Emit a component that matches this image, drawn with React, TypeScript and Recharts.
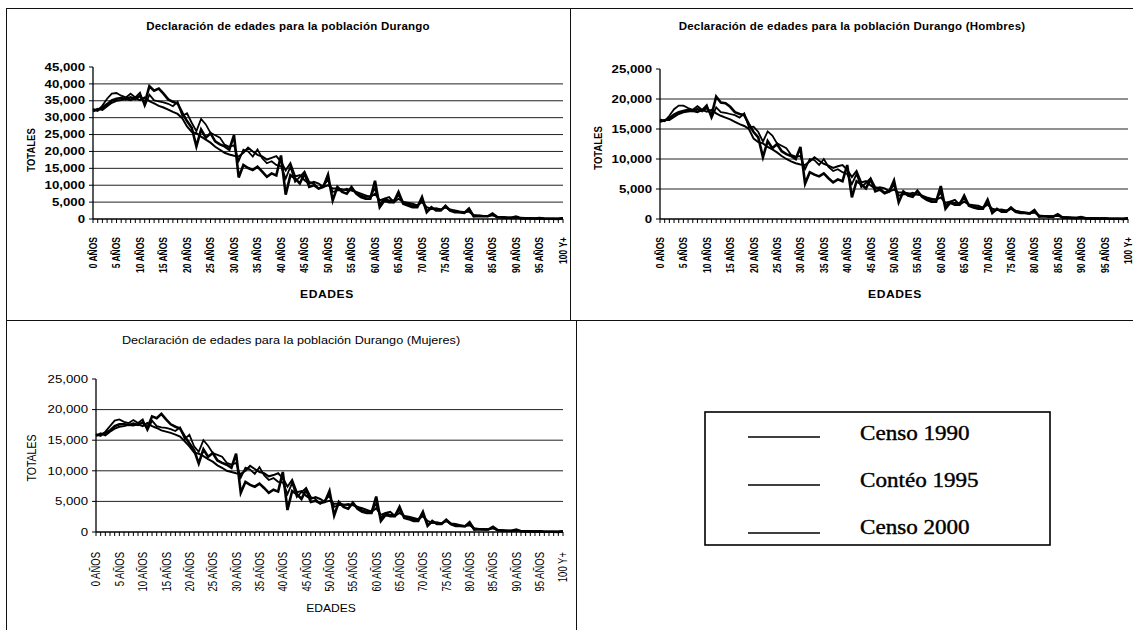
import React from 'react';
import { LineChart, Line, XAxis, YAxis, CartesianGrid } from 'recharts';

// edades 0..100 (100 = "100 Y+")
const edades = Array.from({ length: 101 }, (_, i) => i);
const edadesConEtiqueta = [0, 5, 10, 15, 20, 25, 30, 35, 40, 45, 50, 55, 60, 65, 70, 75, 80, 85, 90, 95, 100];
const etiquetasEdad = [
  '0 AÑOS', '5 AÑOS', '10 AÑOS', '15 AÑOS', '20 AÑOS', '25 AÑOS', '30 AÑOS', '35 AÑOS', '40 AÑOS', '45 AÑOS',
  '50 AÑOS', '55 AÑOS', '60 AÑOS', '65 AÑOS', '70 AÑOS', '75 AÑOS', '80 AÑOS', '85 AÑOS', '90 AÑOS', '95 AÑOS', '100 Y+',
];

const censos = ['Censo 1990', 'Contéo 1995', 'Censo 2000'];

const ticksTotal = [0, 5000, 10000, 15000, 20000, 25000, 30000, 35000, 40000, 45000];
const gridTotal = [5000, 10000, 15000, 20000, 25000, 30000, 35000, 40000];
const ticksSexo = [0, 5000, 10000, 15000, 20000, 25000];
const gridSexo = [5000, 10000, 15000, 20000];

// Durango, total
const total1990 = [
  32100, 32300, 33000, 34000, 35100, 35600, 35800, 35500, 36000, 35500,
  36500, 34300, 39300, 38000, 38600, 37100, 35400, 34700, 34200, 31400,
  29000, 27000, 21500, 26500, 24100, 25400, 23000, 22100, 21500, 20500,
  24800, 12300, 16000, 15100, 14500, 15500, 14000, 12500, 13500, 12900,
  18800, 7200, 13000, 12000, 10500, 13500, 9500, 10000, 9000, 9500,
  13100, 5500, 9500, 8000, 7500, 9500, 7500, 6500, 6000, 6000,
  11300, 3500, 5500, 5000, 5000, 8000, 4500, 4000, 3500, 3500,
  6500, 2000, 3500, 2500, 2500, 3900, 2500, 2000, 2000, 1800,
  3100, 800, 900, 800, 800, 1600, 550, 500, 400, 350,
  700, 250, 220, 200, 160, 250, 100, 90, 70, 50,
  200,
];
const total1995 = [
  32600, 32000, 33600, 35600, 37100, 37300, 36500, 36000, 37100, 36000,
  37400, 33400, 36800, 35100, 34800, 34500, 34100, 33400, 34700, 30500,
  31300, 28500, 26000, 29600, 28000, 25500, 24800, 24100, 22000, 21400,
  21800, 17200, 20500, 20000, 18500, 20600, 18000, 16500, 17100, 16000,
  15600, 12000, 15500, 11000, 12500, 14000, 11000, 10500, 9000, 10000,
  11500, 8000, 8500, 8500, 9000, 8500, 8000, 7000, 6500, 6800,
  9000, 4500, 6000, 5500, 5500, 7000, 5000, 4500, 4000, 4000,
  5500, 2500, 3000, 3000, 2800, 3500, 2500, 2200, 2000, 1900,
  2500, 1000, 1000, 900, 800, 1300, 600, 500, 400, 400,
  550, 250, 220, 200, 180, 200, 120, 100, 80, 60,
  220,
];
const total2000 = [
  31900, 32600, 32300, 33400, 34400, 35000, 35200, 35500, 35200, 35800,
  35200, 36000, 34900, 34200, 33500, 33000, 32400, 31700, 31100, 29800,
  27400, 25800, 25400, 24400, 23500, 22600, 21400, 20500, 19600, 19100,
  18700, 18500, 19600, 21100, 20000, 19000, 18500, 17600, 18100, 18600,
  17000, 14400, 16500, 12600, 13000, 11500, 10500, 11000, 10500, 9500,
  10000, 9000, 9000, 8800, 8500, 8500, 8000, 7500, 7000, 6500,
  7500, 5500, 6000, 6500, 5000, 6000, 5000, 4800, 4500, 4000,
  5000, 3500, 3000, 3200, 2800, 3500, 2800, 2500, 2200, 2000,
  2200, 1200, 1000, 900, 900, 1100, 600, 500, 400, 400,
  450, 250, 220, 200, 180, 180, 120, 100, 80, 60,
  240,
];

// Hombres
const hombres1990 = [
  16300, 16400, 16800, 17400, 17800, 18000, 18200, 18000, 18300, 18000,
  18600, 17300, 20400, 19400, 19300, 18700, 17800, 17500, 17300, 15800,
  14500, 13600, 10300, 13000, 11800, 12500, 11300, 10800, 10500, 10000,
  12000, 5900, 7800, 7400, 7100, 7600, 6800, 6100, 6600, 6300,
  9000, 3600, 6300, 5800, 5100, 6600, 4600, 4900, 4300, 4600,
  6400, 2800, 4600, 3900, 3700, 4700, 3700, 3200, 2900, 2900,
  5500, 1700, 2700, 2400, 2400, 3900, 2200, 1900, 1700, 1700,
  3200, 1000, 1700, 1200, 1200, 1900, 1200, 1000, 1000, 900,
  1500, 400, 450, 400, 400, 800, 250, 250, 200, 150,
  300, 120, 110, 100, 80, 120, 50, 45, 35, 25,
  100,
];
const hombres1995 = [
  16600, 16300, 17200, 18300, 18900, 18900, 18500, 18200, 18800, 18200,
  19000, 16800, 18600, 17800, 17700, 17500, 17300, 16900, 17600, 15300,
  15400, 14500, 12900, 14600, 13900, 12600, 12200, 11800, 10700, 10400,
  10500, 8300, 10000, 9800, 9000, 10000, 8700, 8000, 8300, 7800,
  7500, 5800, 7500, 5300, 6000, 6800, 5300, 5100, 4400, 4800,
  5600, 3900, 4100, 4100, 4400, 4100, 3900, 3400, 3200, 3300,
  4400, 2200, 2900, 2700, 2700, 3400, 2400, 2200, 1900, 1900,
  2700, 1200, 1500, 1500, 1400, 1700, 1200, 1100, 1000, 900,
  1200, 500, 500, 450, 400, 650, 300, 250, 200, 200,
  250, 120, 110, 100, 90, 100, 60, 50, 40, 30,
  110,
];
const hombres2000 = [
  16200, 16500, 16500, 17000, 17500, 17800, 17900, 18000, 17800, 18200,
  17900, 18200, 17600, 17200, 16900, 16600, 16200, 15800, 15500, 15000,
  13400, 12800, 12600, 12000, 11600, 11100, 10500, 10000, 9600, 9300,
  9100, 9000, 9600, 10300, 9700, 9200, 8900, 8500, 8800, 9000,
  8200, 7000, 8000, 6100, 6300, 5600, 5100, 5300, 5100, 4600,
  4900, 4400, 4400, 4300, 4100, 4100, 3900, 3600, 3400, 3200,
  3600, 2700, 2900, 3200, 2400, 2900, 2400, 2300, 2200, 1900,
  2400, 1700, 1500, 1600, 1400, 1700, 1400, 1200, 1100, 1000,
  1100, 600, 500, 450, 450, 550, 300, 250, 200, 200,
  200, 120, 110, 100, 90, 90, 60, 50, 40, 30,
  120,
];

// Mujeres
const mujeres1990 = [
  15800, 15900, 16200, 16600, 17300, 17600, 17600, 17500, 17700, 17500,
  17900, 17000, 18900, 18600, 19300, 18400, 17600, 17200, 16900, 15600,
  14500, 13400, 11200, 13500, 12300, 12900, 11700, 11300, 11000, 10500,
  12800, 6400, 8200, 7700, 7400, 7900, 7200, 6400, 6900, 6600,
  9800, 3600, 6700, 6200, 5400, 6900, 4900, 5100, 4700, 4900,
  6700, 2700, 4900, 4100, 3800, 4800, 3800, 3300, 3100, 3100,
  5800, 1800, 2800, 2600, 2600, 4100, 2300, 2100, 1800, 1800,
  3300, 1000, 1800, 1300, 1300, 2000, 1300, 1000, 1000, 900,
  1600, 400, 450, 400, 400, 850, 300, 250, 200, 200,
  400, 130, 110, 100, 80, 130, 50, 45, 35, 25,
  100,
];
const mujeres1995 = [
  16000, 15700, 16400, 17300, 18200, 18400, 18000, 17800, 18300, 17800,
  18400, 16600, 18200, 17300, 17100, 17000, 16800, 16500, 17100, 15200,
  15900, 14000, 13100, 15000, 14100, 12900, 12600, 12300, 11300, 11000,
  11300, 8900, 10500, 10200, 9500, 10600, 9300, 8500, 8800, 8200,
  8100, 6200, 8000, 5700, 6500, 7200, 5700, 5400, 4600, 5200,
  5900, 4100, 4400, 4400, 4600, 4400, 4100, 3600, 3300, 3500,
  4600, 2300, 3100, 2800, 2800, 3600, 2600, 2300, 2100, 2100,
  2800, 1300, 1500, 1500, 1400, 1800, 1300, 1100, 1000, 1000,
  1300, 500, 500, 450, 400, 700, 300, 250, 200, 200,
  300, 130, 110, 100, 90, 100, 60, 50, 40, 30,
  110,
];
const mujeres2000 = [
  15700, 16100, 15800, 16400, 16900, 17200, 17300, 17500, 17400, 17600,
  17300, 17800, 17300, 17000, 16600, 16400, 16200, 15900, 15600, 14800,
  14000, 13000, 12800, 12400, 11900, 11500, 10900, 10500, 10000, 9800,
  9600, 9500, 10000, 10800, 10300, 9800, 9600, 9100, 9300, 9600,
  8800, 7400, 8500, 6500, 6700, 5900, 5400, 5700, 5400, 4900,
  5100, 4600, 4600, 4500, 4400, 4400, 4100, 3900, 3600, 3300,
  3900, 2800, 3100, 3300, 2600, 3100, 2600, 2500, 2300, 2100,
  2600, 1800, 1500, 1600, 1400, 1800, 1400, 1300, 1100, 1000,
  1100, 600, 500, 450, 450, 600, 300, 250, 200, 200,
  250, 130, 110, 100, 90, 90, 60, 50, 40, 30,
  120,
];

const FONT = '"Liberation Sans", Arial, sans-serif';
const STRETCH = 1.15;

const filas = (a: number[], b: number[], c: number[]) =>
  edades.map((e, i) => ({ edad: e, c1990: a[i], c1995: b[i], c2000: c[i] }));

const XTick = (props: any) => {
  const { x, y, payload, size, weight, offset, stretch } = props;
  const idx = edadesConEtiqueta.indexOf(payload.value);
  if (idx < 0) return <g />;
  return (
    <text
      transform={`translate(${x},${y + offset}) scale(${stretch},1) rotate(-90)`}
      textAnchor="end"
      dominantBaseline="central"
      fontFamily={FONT}
      fontSize={size}
      fontWeight={weight}
      fill="#000"
    >
      {etiquetasEdad[idx]}
    </text>
  );
};

const YTick = (props: any) => {
  const { x, y, payload, size, weight } = props;
  return (
    <text
      transform={`translate(${x},${y}) scale(${STRETCH},1)`}
      textAnchor="end"
      dominantBaseline="central"
      fontFamily={FONT}
      fontSize={size}
      fontWeight={weight}
      fill="#000"
    >
      {Number(payload.value).toLocaleString('en-US')}
    </text>
  );
};

const Texto = ({ x, y, size, weight, rotate, spacing, children }: any) => (
  <div
    style={{
      position: 'absolute',
      left: x,
      top: y,
      transform: `translate(-50%,-50%) scaleX(${STRETCH})${rotate ? ' rotate(-90deg)' : ''}`,
      whiteSpace: 'nowrap',
      fontFamily: FONT,
      fontSize: size,
      fontWeight: weight,
      letterSpacing: spacing || 0,
      lineHeight: 1,
      color: '#000',
    }}
  >
    {children}
  </div>
);

const Grafica = ({ left, top, width, height, margin, data, ticks, grid, bold, xOffset, xSize, xStretch, ySize }: any) => {
  const weight = bold ? 700 : 400;
  return (
    <div style={{ position: 'absolute', left, top }}>
      <LineChart width={width} height={height} data={data} margin={margin}>
        <CartesianGrid vertical={false} horizontalValues={grid} stroke="#222" strokeWidth={1} />
        <XAxis
          dataKey="edad"
          interval={0}
          height={60}
          tickSize={4}
          tickMargin={2}
          axisLine={{ stroke: '#000', strokeWidth: 1.3 }}
          tickLine={{ stroke: '#000' }}
          tick={<XTick size={xSize} weight={weight} offset={xOffset} stretch={xStretch} />}
        />
        <YAxis
          width={60}
          domain={[0, ticks[ticks.length - 1]]}
          ticks={ticks}
          interval={0}
          tickSize={4}
          tickMargin={4}
          axisLine={{ stroke: '#000', strokeWidth: 1.3 }}
          tickLine={{ stroke: '#000' }}
          tick={<YTick size={ySize} weight={weight} />}
        />
        <Line type="linear" dataKey="c1990" name={censos[0]} stroke="#000" strokeWidth={2.6} dot={false} isAnimationActive={false} />
        <Line type="linear" dataKey="c1995" name={censos[1]} stroke="#000" strokeWidth={1.8} dot={false} isAnimationActive={false} />
        <Line type="linear" dataKey="c2000" name={censos[2]} stroke="#000" strokeWidth={2} dot={false} isAnimationActive={false} />
      </LineChart>
    </div>
  );
};

export default function App() {
  const datosTotal = filas(total1990, total1995, total2000);
  const datosHombres = filas(hombres1990, hombres1995, hombres2000);
  const datosMujeres = filas(mujeres1990, mujeres1995, mujeres2000);

  return (
    <div style={{ position: 'absolute', left: 0, top: 0, width: 1133, height: 630, background: '#fff', overflow: 'hidden' }}>
      {/* marcos */}
      <div style={{ position: 'absolute', left: 6, top: 8, width: 1140, height: 640, borderLeft: '1px solid #111', borderTop: '1px solid #111' }} />
      <div style={{ position: 'absolute', left: 570, top: 8, width: 1, height: 312, background: '#111' }} />
      <div style={{ position: 'absolute', left: 6, top: 320, width: 1127, height: 1, background: '#111' }} />
      <div style={{ position: 'absolute', left: 576, top: 320, width: 1, height: 310, background: '#111' }} />

      <Grafica
        left={6} top={8} width={564} height={312}
        margin={{ top: 59, right: 7, left: 27, bottom: 41 }}
        data={datosTotal} ticks={ticksTotal} grid={gridTotal}
        bold xOffset={12} xSize={8.5} xStretch={1.35} ySize={11.5}
      />
      <Texto x={288} y={27} size={10} weight={700} spacing={0.2}>Declaración de edades para la población Durango</Texto>
      <Texto x={31} y={150} size={9.5} weight={700} rotate>TOTALES</Texto>
      <Texto x={327} y={294} size={10.5} weight={700} spacing={0.5}>EDADES</Texto>

      <Grafica
        left={570} top={8} width={563} height={312}
        margin={{ top: 61, right: 5, left: 30, bottom: 41 }}
        data={datosHombres} ticks={ticksSexo} grid={gridSexo}
        bold xOffset={12} xSize={8.5} xStretch={1.35} ySize={11.5}
      />
      <Texto x={852} y={27} size={10} weight={700} spacing={0.2}>Declaración de edades para la población Durango (Hombres)</Texto>
      <Texto x={598} y={148} size={9.5} weight={700} rotate>TOTALES</Texto>
      <Texto x={895} y={294} size={10.5} weight={700} spacing={0.5}>EDADES</Texto>

      <Grafica
        left={6} top={320} width={570} height={310}
        margin={{ top: 59, right: 13, left: 30, bottom: 38 }}
        data={datosMujeres} ticks={ticksSexo} grid={gridSexo}
        bold={false} xOffset={14} xSize={9.5} xStretch={1.3} ySize={11.5}
      />
      <Texto x={291} y={340} size={11} weight={400}>Declaración de edades para la población Durango (Mujeres)</Texto>
      <Texto x={32} y={458} size={10.5} weight={400} rotate>TOTALES</Texto>
      <Texto x={331} y={608} size={10.5} weight={400}>EDADES</Texto>

      {/* leyenda */}
      <svg style={{ position: 'absolute', left: 0, top: 0 }} width={1133} height={630}>
        <rect x={705} y={412} width={345} height={133} fill="none" stroke="#000" strokeWidth={1.6} />
        {censos.map((nombre, i) => (
          <g key={nombre}>
            <line x1={748} x2={820} y1={437 + i * 48} y2={437 + i * 48} stroke="#000" strokeWidth={1.6} />
            <text
              transform={`translate(860,${433 + i * 47}) scale(1.1,1)`}
              dominantBaseline="central"
              fontFamily='"Liberation Serif", "Times New Roman", serif'
              fontSize={21}
              stroke="#000"
              strokeWidth={0.4}
              fill="#000"
            >
              {nombre}
            </text>
          </g>
        ))}
      </svg>
    </div>
  );
}
